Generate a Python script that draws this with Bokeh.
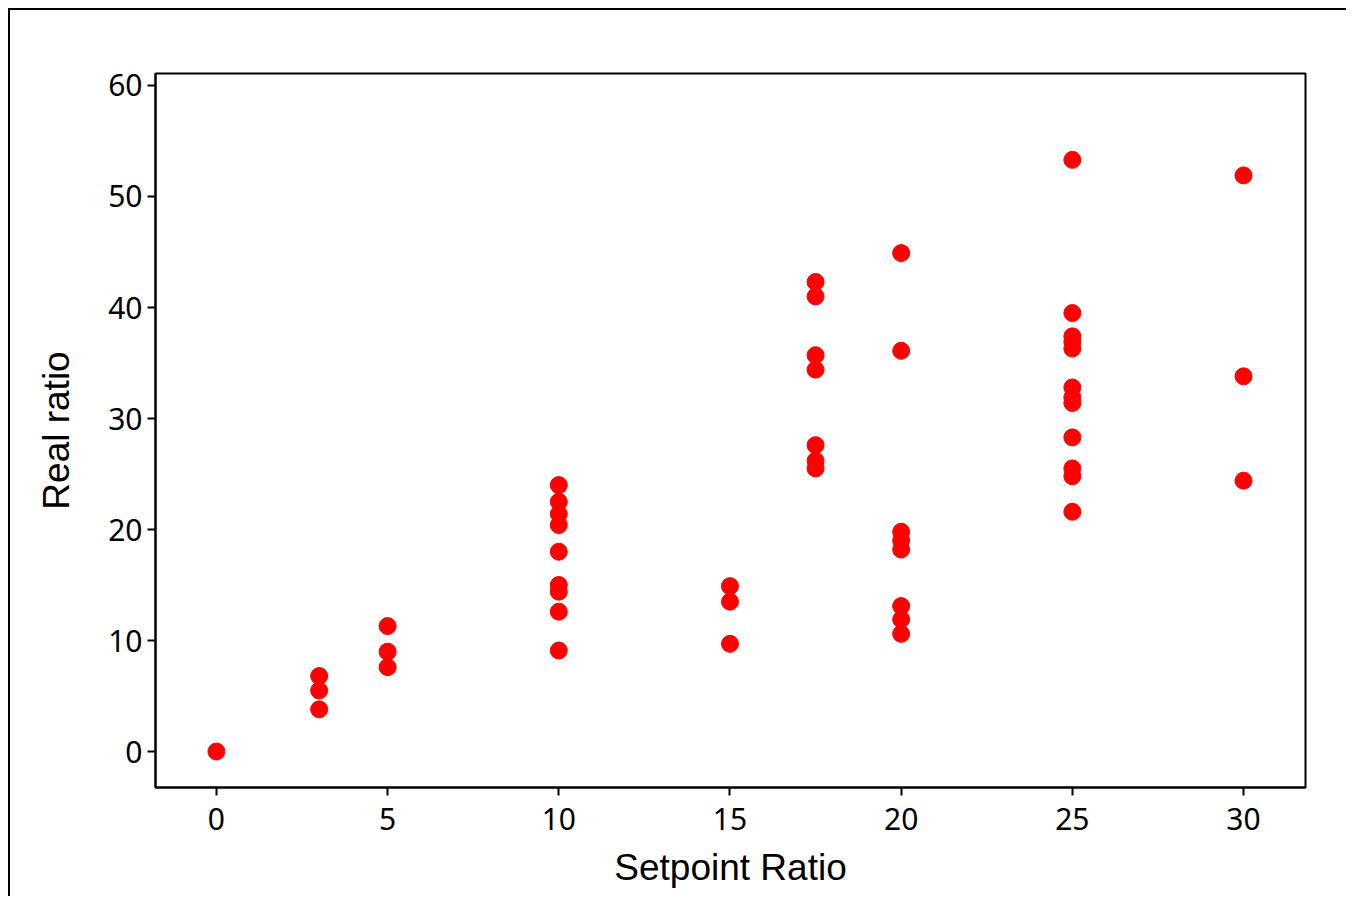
from bokeh.plotting import figure
from bokeh.models import ColumnDataSource, FixedTicker, Range1d
from bokeh.embed import file_html
from bokeh.resources import INLINE

setpoint = [0,
            3, 3, 3,
            5, 5, 5,
            10, 10, 10, 10, 10, 10, 10, 10, 10,
            15, 15, 15,
            17.5, 17.5, 17.5, 17.5, 17.5, 17.5, 17.5,
            20, 20, 20, 20, 20, 20, 20, 20,
            25, 25, 25, 25, 25, 25, 25, 25, 25, 25, 25, 25,
            30, 30, 30]
real = [0.0,
        6.8, 5.5, 3.8,
        11.3, 9.0, 7.6,
        24.0, 22.5, 21.4, 20.4, 18.0, 15.0, 14.4, 12.6, 9.1,
        14.9, 13.5, 9.7,
        42.3, 41.0, 35.7, 34.4, 27.6, 26.2, 25.5,
        44.9, 36.1, 19.8, 19.0, 18.2, 13.1, 11.9, 10.6,
        53.3, 39.5, 37.4, 36.9, 36.3, 32.8, 31.9, 31.4, 28.3, 25.5, 24.8, 21.6,
        51.9, 33.8, 24.4]

x_ticks = [0, 5, 10, 15, 20, 25, 30]
y_ticks = [0, 10, 20, 30, 40, 50, 60]

src = ColumnDataSource(dict(x=setpoint, y=real))

p = figure(width=1338, height=888, output_backend="svg", toolbar_location=None,
           x_range=Range1d(-1.78, 31.81), y_range=Range1d(-3.24, 61.08),
           min_border_left=145, min_border_top=63, min_border_right=43, min_border_bottom=111)
p.styles = {"margin-left": "8px", "margin-top": "8px",
            "border-left": "2px solid black", "border-top": "2px solid black"}

p.scatter("x", "y", source=src, size=17, color="#ff0000", line_color="#ff0000")

p.xgrid.visible = False
p.ygrid.visible = False
p.outline_line_color = "black"
p.outline_line_width = 2
p.outline_line_alpha = 1

for ax in (p.xaxis[0], p.yaxis[0]):
    ax.axis_line_color = "black"
    ax.axis_line_width = 2
    ax.major_tick_line_color = "black"
    ax.major_tick_line_width = 2
    ax.major_tick_out = 8
    ax.major_tick_in = 0
    ax.minor_tick_line_color = None
    ax.major_label_text_font = "Noto Sans"
    ax.major_label_text_font_size = "30px"
    ax.major_label_text_color = "black"
    ax.axis_label_text_font = "Liberation Sans"
    ax.axis_label_text_font_size = "37px"
    ax.axis_label_text_font_style = "normal"
    ax.axis_label_text_color = "black"

p.xaxis.ticker = FixedTicker(ticks=x_ticks)
p.yaxis.ticker = FixedTicker(ticks=y_ticks)
p.xaxis.axis_label = "Setpoint Ratio"
p.yaxis.axis_label = "Real ratio"
p.xaxis.major_label_standoff = 12
p.yaxis.major_label_standoff = 5
p.xaxis.axis_label_standoff = 14
p.yaxis.axis_label_standoff = 28

open("out.html", "w").write(file_html(p, INLINE))
